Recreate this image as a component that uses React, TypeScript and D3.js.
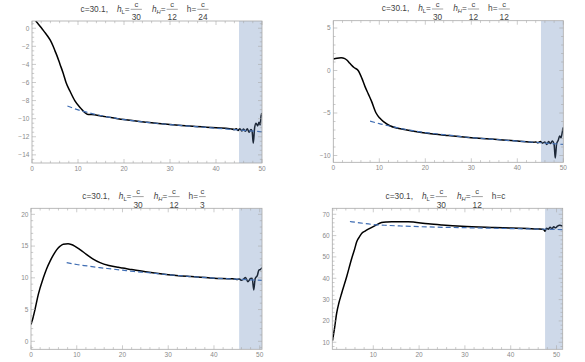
import { useEffect, useRef } from 'react';
import * as d3 from 'd3';

type Pt = [number, number];

const FONT = '"Liberation Sans", Arial, sans-serif';
const CURVE_COLOR = '#000000';
const FIT_COLOR = '#3f6db3';
const BAND_COLOR = '#5E81B5';
const FRAME_COLOR = '#a9a9a9';
const LABEL_COLOR = '#8a8a8a';
const TITLE_COLOR = '#444444';

// h = c/24
const curve1: Pt[] = [
  [0.8, 0.8], [1.4, 0.45], [2.1, 0], [2.7, -0.4], [3.3, -0.8], [4.0, -1.35], [4.6, -2.0], [5.0, -2.5],
  [5.4, -3.0], [6.1, -4.0], [6.8, -5.0], [7.4, -6.0], [8.3, -7.0], [9.3, -8.0], [10.5, -8.8], [12.0, -9.5],
  [13, -9.55], [15, -9.7], [17.5, -9.9], [20, -10.1], [25, -10.4], [30, -10.65], [35, -10.85], [40, -11.0],
  [43, -11.1], [44, -11.2], [44.4, -11.1], [44.8, -11.3], [45.2, -11.1], [45.6, -11.35], [46.0, -11.15],
  [46.4, -11.4], [46.8, -11.1], [47.2, -11.5], [47.6, -11.2], [47.85, -11.4], [48.1, -12.7], [48.4, -11.0],
  [48.7, -10.5], [49.05, -10.8], [49.35, -10.4], [49.6, -10.7], [49.8, -9.7], [50, -9.4],
];
const fit1: Pt[] = [
  [7.7, -8.6], [9, -8.85], [10.5, -9.1], [12, -9.3], [14, -9.55], [17, -9.85], [20, -10.1], [25, -10.4],
  [30, -10.65], [35, -10.85], [40, -11.05], [45, -11.25], [50, -11.45],
];

// h = c/12
const curve2: Pt[] = [
  [0, 1.35], [0.8, 1.45], [1.7, 1.5], [2.5, 1.4], [3.0, 1.2], [3.6, 0.85], [4.5, 0.35], [5.4, 0],
  [6.2, -0.9], [6.9, -1.9], [7.6, -2.75], [8.3, -3.6], [9.3, -5.0], [10.1, -5.6], [11, -6.05], [12.3, -6.5],
  [14, -6.8], [16, -7.0], [20, -7.35], [25, -7.65], [30, -7.9], [35, -8.1], [40, -8.3], [43.5, -8.45],
  [44, -8.4], [44.5, -8.5], [45, -8.35], [45.5, -8.55], [46, -8.4], [46.4, -8.7], [46.8, -8.35], [47.2, -8.6],
  [47.6, -8.3], [48.0, -8.7], [48.25, -10.3], [48.55, -8.6], [48.9, -8.2], [49.2, -7.7], [49.5, -7.9],
  [49.8, -7.2], [50, -6.7],
];
const fit2: Pt[] = [
  [8, -5.95], [10, -6.25], [12, -6.5], [14, -6.75], [17, -7.05], [20, -7.3], [25, -7.6], [30, -7.9],
  [35, -8.1], [40, -8.3], [45, -8.5], [50, -8.7],
];

// h = c/3
const curve3: Pt[] = [
  [0, 2.65], [0.4, 3.6], [0.87, 5.0], [1.6, 7.4], [2.7, 10.0], [3.4, 11.4], [4.15, 12.6], [4.9, 13.6],
  [5.6, 14.4], [6.3, 14.95], [7.05, 15.3], [8.1, 15.35], [8.8, 15.25], [9.55, 15.0], [10.8, 14.4],
  [12.1, 13.7], [13.5, 13.0], [15.1, 12.4], [17, 11.95], [19.1, 11.65], [20, 11.55], [22, 11.3], [25, 10.95],
  [30, 10.5], [35, 10.2], [40, 9.95], [44, 9.85], [45.0, 9.75], [45.6, 9.8], [46.0, 9.6], [46.4, 9.75],
  [46.9, 10.05], [47.4, 9.4], [48.0, 9.9], [48.35, 9.95], [48.7, 8.1], [49.0, 9.85], [49.5, 10.4],
  [49.8, 11.2], [50.1, 11.3], [50.5, 11.6],
];
const fit3: Pt[] = [
  [7.8, 12.4], [10, 12.1], [12.5, 11.85], [15, 11.6], [17.5, 11.4], [20, 11.2], [22.5, 11.0], [25, 10.85],
  [30, 10.5], [35, 10.2], [40, 9.95], [45, 9.78], [50.5, 9.6],
];

// h = c
const curve4: Pt[] = [
  [1.1, 10.8], [1.5, 16], [2.0, 23.6], [2.5, 28.5], [3.1, 33], [4.2, 40.8], [5.3, 49.4], [5.9, 53.5],
  [6.4, 57.2], [7.0, 59.5], [7.5, 61.1], [8.2, 62.1], [8.9, 63], [10.4, 64.7], [11.8, 66.1], [13, 66.4],
  [14, 66.5], [17.6, 66.5], [22, 65.5], [25, 65], [29.3, 64.4], [36.6, 63.8], [43.8, 63.3], [46, 63.1],
  [47.2, 62.9], [47.5, 62.0], [47.8, 63.5], [48.2, 63.0], [48.6, 63.9], [49.0, 63.3], [49.4, 64.1],
  [49.8, 63.7], [50.2, 64.4], [50.7, 64.8], [51.35, 64.4],
];
const fit4: Pt[] = [
  [4.9, 66.6], [7, 66.0], [10, 65.2], [13, 64.8], [16, 64.5], [20, 64.2], [25, 63.9], [30, 63.7],
  [35, 63.5], [40, 63.3], [45, 63.1], [51.35, 62.8],
];

const hValues = ['24', '12', '3', null]; // null → h = c

const PANELS = [
  { curve: curve1, fit: fit1, xDom: [0, 50], yDom: [-14.9, 0.8], band: [45, 50], yMajor: 2, yMinor: 0.5,
    box: { l: 32, r: 262, t: 21, b: 163 }, h: hValues[0] },
  { curve: curve2, fit: fit2, xDom: [0, 50], yDom: [-10.8, 5.86], band: [45.15, 50], yMajor: 5, yMinor: 1,
    box: { l: 333.3, r: 563.3, t: 20.7, b: 162.3 }, h: hValues[1] },
  { curve: curve3, fit: fit3, xDom: [0, 50.5], yDom: [-1.26, 20.95], band: [45.5, 50.5], yMajor: 5, yMinor: 1,
    box: { l: 31, r: 262, t: 208.3, b: 349.3 }, h: hValues[2] },
  { curve: curve4, fit: fit4, xDom: [1.05, 51.35], yDom: [6.7, 72.8], band: [47.5, 51.35], yMajor: 10, yMinor: 2,
    box: { l: 332.3, r: 562.7, t: 208.3, b: 349.3 }, h: hValues[3] },
];

function steps(lo: number, hi: number, step: number) {
  const out: number[] = [];
  for (let v = Math.ceil(lo / step - 1e-9) * step; v <= hi + 1e-9; v += step) out.push(+v.toFixed(6));
  return out;
}

function drawTitle(svg: any, cx: number, baseline: number, h: string | null) {
  const g = svg.append('g')
    .attr('font-family', FONT)
    .attr('font-size', 8.3)
    .attr('fill', TITLE_COLOR);
  let x = 0;
  const word = (s: string, opts: any = {}) => {
    const el = g.append('text').attr('x', x).attr('y', opts.dy || 0).text(s);
    if (opts.italic) el.attr('font-style', 'italic');
    if (opts.size) el.attr('font-size', opts.size);
    x += (el.node() as SVGTextElement).getComputedTextLength();
  };
  const gap = (w: number) => { x += w; };
  const frac = (n: string, d: string) => {
    const tn = g.append('text').attr('y', -4.6).attr('font-size', 7.6).attr('text-anchor', 'middle').text(n);
    const td = g.append('text').attr('y', 8.6).attr('text-anchor', 'middle').text(d);
    const w = Math.max(
      (tn.node() as SVGTextElement).getComputedTextLength(),
      (td.node() as SVGTextElement).getComputedTextLength()
    ) + 2;
    const c = x + 1 + w / 2;
    tn.attr('x', c);
    td.attr('x', c);
    g.append('line')
      .attr('x1', x + 1).attr('x2', x + 1 + w)
      .attr('y1', -2.4).attr('y2', -2.4)
      .attr('stroke', TITLE_COLOR).attr('stroke-width', 0.5);
    x += w + 2;
  };

  word('c=30.1,');
  gap(9);
  word('h', { italic: true });
  word('L', { size: 5.8, dy: 2 });
  word('=');
  frac('c', '30');
  gap(9);
  word('h', { italic: true });
  word('H', { size: 5.8, dy: 2, italic: true });
  word('=');
  frac('c', '12');
  gap(8);
  if (h) {
    word('h=');
    frac('c', h);
  } else {
    word('h=c');
  }
  g.attr('transform', `translate(${cx - x / 2},${baseline})`);
}

function App() {
  const svgRef = useRef<SVGSVGElement>(null);

  useEffect(() => {
    const svg = d3.select(svgRef.current);
    svg.selectAll('*').remove();

    PANELS.forEach((p, i) => {
      const { box } = p;
      const x = d3.scaleLinear().domain(p.xDom).range([box.l, box.r]);
      const y = d3.scaleLinear().domain(p.yDom).range([box.b, box.t]);

      const clipId = `clip-${i}`;
      svg.append('clipPath').attr('id', clipId)
        .append('rect')
        .attr('x', box.l).attr('y', box.t)
        .attr('width', box.r - box.l).attr('height', box.b - box.t);

      const plot = svg.append('g').attr('clip-path', `url(#${clipId})`);
      const line = d3.line<Pt>().x(d => x(d[0])).y(d => y(d[1])).curve(d3.curveMonotoneX);

      plot.append('path')
        .attr('d', line(p.curve))
        .attr('fill', 'none')
        .attr('stroke', CURVE_COLOR)
        .attr('stroke-width', 1.5)
        .attr('stroke-linejoin', 'round');

      plot.append('path')
        .attr('d', line(p.fit))
        .attr('fill', 'none')
        .attr('stroke', FIT_COLOR)
        .attr('stroke-width', 1.2)
        .attr('stroke-dasharray', '5,3');

      // shaded band
      plot.append('rect')
        .attr('x', x(p.band[0]))
        .attr('y', box.t)
        .attr('width', x(p.band[1]) - x(p.band[0]))
        .attr('height', box.b - box.t)
        .attr('fill', BAND_COLOR)
        .attr('fill-opacity', 0.3);

      // frame
      svg.append('rect')
        .attr('x', box.l).attr('y', box.t)
        .attr('width', box.r - box.l).attr('height', box.b - box.t)
        .attr('fill', 'none')
        .attr('stroke', FRAME_COLOR)
        .attr('stroke-width', 0.8);

      const ticks = svg.append('g').attr('stroke', FRAME_COLOR).attr('stroke-width', 0.6);
      const xMajor = steps(p.xDom[0], p.xDom[1], 10);
      const xMinor = steps(p.xDom[0], p.xDom[1], 2).filter(v => !xMajor.includes(v));
      const yMajor = steps(p.yDom[0], p.yDom[1], p.yMajor);
      const yMinor = steps(p.yDom[0], p.yDom[1], p.yMinor).filter(v => !yMajor.some(m => Math.abs(m - v) < 1e-6));

      const xt = (vals: number[], len: number) => vals.forEach(v => {
        ticks.append('line').attr('x1', x(v)).attr('x2', x(v)).attr('y1', box.b).attr('y2', box.b - len);
        ticks.append('line').attr('x1', x(v)).attr('x2', x(v)).attr('y1', box.t).attr('y2', box.t + len);
      });
      const yt = (vals: number[], len: number) => vals.forEach(v => {
        ticks.append('line').attr('y1', y(v)).attr('y2', y(v)).attr('x1', box.l).attr('x2', box.l + len);
        ticks.append('line').attr('y1', y(v)).attr('y2', y(v)).attr('x1', box.r).attr('x2', box.r - len);
      });
      xt(xMajor, 4); xt(xMinor, 2.2);
      yt(yMajor, 4); yt(yMinor, 2.2);

      const fmt = d3.format('d');
      const labels = svg.append('g')
        .attr('font-family', FONT)
        .attr('font-size', 6.5)
        .attr('fill', LABEL_COLOR);
      xMajor.forEach(v => {
        labels.append('text')
          .attr('x', x(v)).attr('y', box.b + 7.6)
          .attr('text-anchor', 'middle')
          .text(fmt(v));
      });
      yMajor.forEach(v => {
        labels.append('text')
          .attr('x', box.l - 2.6).attr('y', y(v) + 2.3)
          .attr('text-anchor', 'end')
          .text(fmt(v));
      });

      drawTitle(svg, (box.l + box.r) / 2 - 2, box.t - 9.3, p.h);
    });
  }, []);

  return (
    <svg
      ref={svgRef}
      width={585}
      height={362}
      style={{ position: 'absolute', left: 0, top: 0, background: '#fff' }}
    />
  );
}

export default App;
